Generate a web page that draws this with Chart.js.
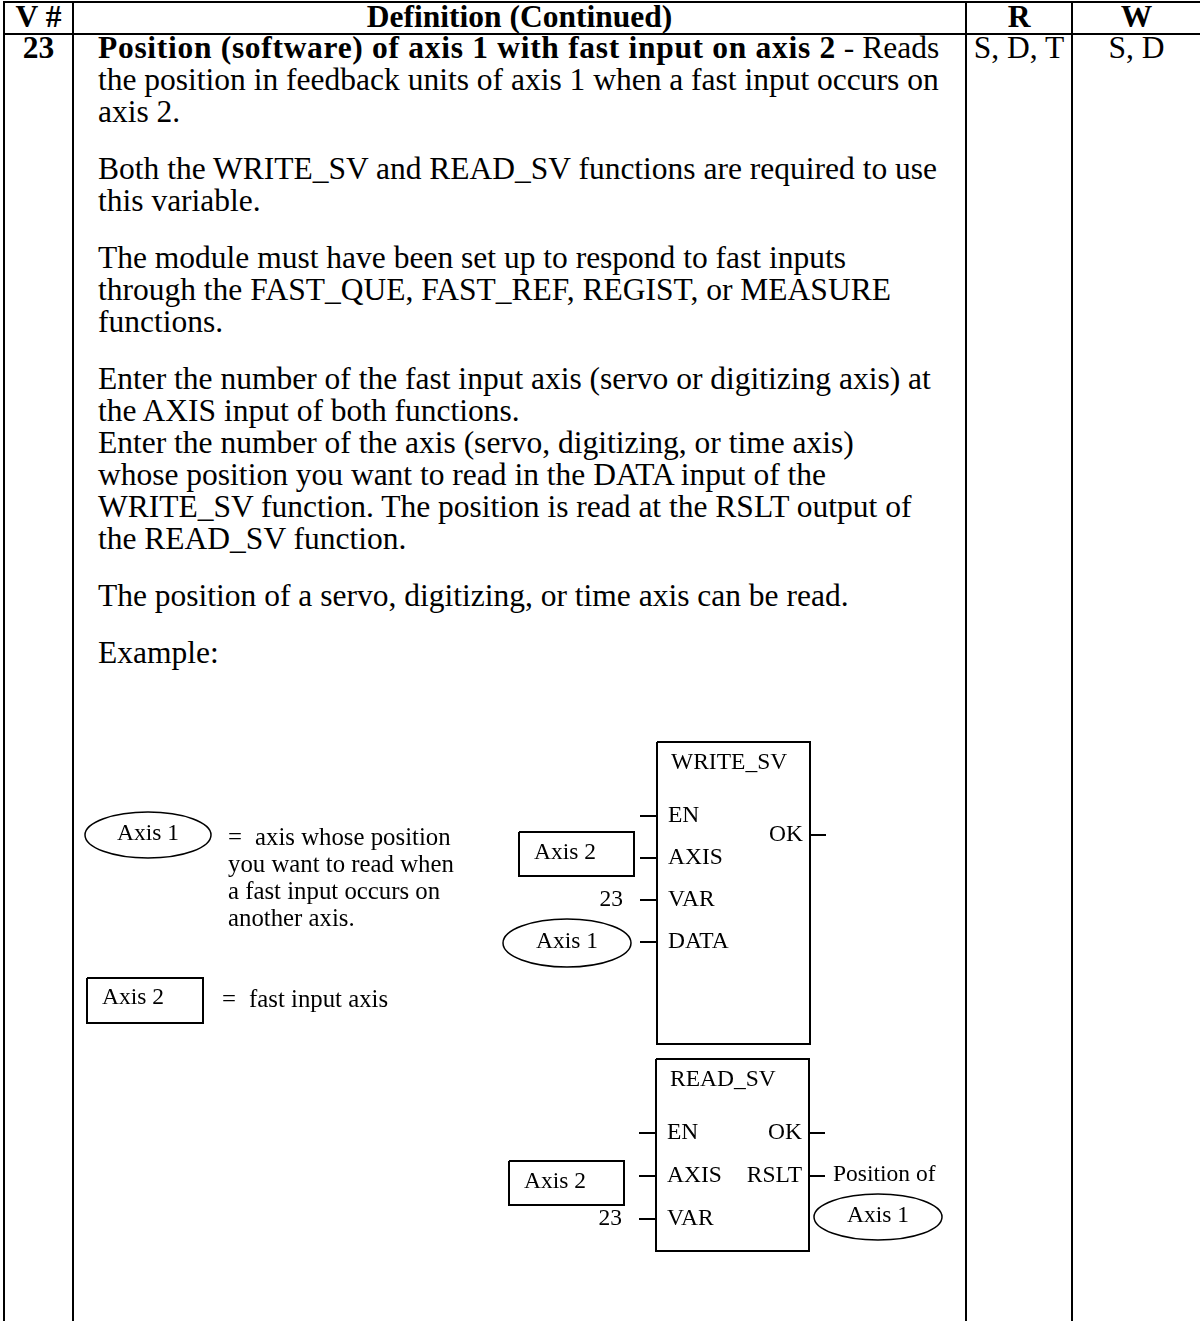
<!DOCTYPE html>
<html>
<head>
<meta charset="utf-8">
<script src="https://cdn.jsdelivr.net/npm/chart.js@4.4.1/dist/chart.umd.min.js"></script>
<style>
    html, body { margin: 0; padding: 0; background: #fff; }
    #Page { position: relative; width: 1200px; height: 1321px; overflow: hidden; font-family: "Liberation Serif", "Times New Roman", serif; color: #000; }
    .Rule { position: absolute; background: #000; }
    .Cell { position: absolute; font-size: 31.5px; line-height: 32px; white-space: nowrap; }
    .Head { font-weight: bold; text-align: center; }
    #Body_Text { position: absolute; left: 98px; top: 32px; font-size: 31.5px; line-height: 32px; white-space: nowrap; }
    #Body_Text p { margin: 0 0 25px 0; }
    #Body_Text b { letter-spacing: 0.7px; }
    #Diagram { position: absolute; left: 0; top: 0; pointer-events: none; }
</style>
</head>
<body>
<div id="Page">
    <div class="Rule" style="left:3px; top:1px; width:1197px; height:2px;"></div>
    <div class="Rule" style="left:3px; top:33px; width:1197px; height:2px;"></div>
    <div class="Rule" style="left:3px; top:1px; width:2px; height:1320px;"></div>
    <div class="Rule" style="left:72px; top:1px; width:2px; height:1320px;"></div>
    <div class="Rule" style="left:965px; top:1px; width:2px; height:1320px;"></div>
    <div class="Rule" style="left:1071px; top:1px; width:2px; height:1320px;"></div>

    <div class="Cell Head" style="left:5px; width:67px; top:1px;">V #</div>
    <div class="Cell Head" style="left:74px; width:891px; top:1px;">Definition (Continued)</div>
    <div class="Cell Head" style="left:967px; width:104px; top:1px;">R</div>
    <div class="Cell Head" style="left:1073px; width:127px; top:1px;">W</div>

    <div class="Cell Head" style="left:5px; width:67px; top:32px;">23</div>
    <div class="Cell" style="left:967px; width:104px; top:32px; text-align:center;">S, D, T</div>
    <div class="Cell" style="left:1073px; width:127px; top:32px; text-align:center;">S, D</div>

    <div id="Body_Text">
        <p><b>Position (software) of axis 1 with fast input on axis 2</b> - Reads<br>the position in feedback units of axis 1 when a fast input occurs on<br>axis 2.</p>
        <p>Both the WRITE_SV and READ_SV functions are required to use<br>this variable.</p>
        <p>The module must have been set up to respond to fast inputs<br>through the FAST_QUE, FAST_REF, REGIST, or MEASURE<br>functions.</p>
        <p>Enter the number of the fast input axis (servo or digitizing axis) at<br>the AXIS input of both functions.<br>Enter the number of the axis (servo, digitizing, or time axis)<br>whose position you want to read in the DATA input of the<br>WRITE_SV function. The position is read at the RSLT output of<br>the READ_SV function.</p>
        <p>The position of a servo, digitizing, or time axis can be read.</p>
        <p>Example:</p>
    </div>

    <canvas id="Diagram" width="1200" height="1321"></canvas>
</div>

<script>
// diagram content
const Legend_Symbols = ["Axis 1", "Axis 2"];
const Legend_Notes = [
    ["axis whose position", "you want to read when", "a fast input occurs on", "another axis."],
    ["fast input axis"]
];

const Write_Name = "WRITE_SV";
const Write_Inputs = ["EN", "AXIS", "VAR", "DATA"];
const Write_Sources = ["", "Axis 2", "23", "Axis 1"];
const Write_Outputs = ["OK"];
const Write_Targets = [""];

const Read_Name = "READ_SV";
const Read_Inputs = ["EN", "AXIS", "VAR"];
const Read_Sources = ["", "Axis 2", "23"];
const Read_Outputs = ["OK", "RSLT"];
const Read_Targets = ["", "Axis 1"];
const Read_Target_Note = "Position of";

const Diagram_Font = "23.5px 'Liberation Serif', 'Times New Roman', serif";
const Legend_Font = "24.8px 'Liberation Serif', 'Times New Roman', serif";

// block frames (page pixels, the chart scales are page pixels)
const Blocks = [
    { Name: Write_Name, Inputs: Write_Inputs, Sources: Write_Sources, Outputs: Write_Outputs, Targets: Write_Targets,
      Left: 657, Top: 742, Right: 810, Bottom: 1044, Pin_Start: 74, Pin_Step: 42, Out_Start: 93, Src_Gap: 23, Box_Dy: -4 },
    { Name: Read_Name, Inputs: Read_Inputs, Sources: Read_Sources, Outputs: Read_Outputs, Targets: Read_Targets,
      Left: 656, Top: 1059, Right: 809, Bottom: 1251, Pin_Start: 74, Pin_Step: 43, Out_Start: 74, Src_Gap: 32, Box_Dy: 7 }
];

function Line_Set(Points, Width) {
    return {
        type: "line",
        data: Points,
        showLine: true,
        borderColor: "#000",
        borderWidth: Width,
        pointRadius: 0,
        fill: false,
        tension: 0
    };
}

function Rect_Points(L, T, R, B) {
    return [{ x: L, y: T }, { x: R, y: T }, { x: R, y: B }, { x: L, y: B }, { x: L, y: T }];
}

function Build_Datasets() {
    const Sets = [];
    Blocks.forEach(function (Blk) {
        Sets.push(Line_Set(Rect_Points(Blk.Left, Blk.Top, Blk.Right, Blk.Bottom), 2));
        Blk.Inputs.forEach(function (Pin, i) {
            const Y = Blk.Top + Blk.Pin_Start + i * Blk.Pin_Step;
            Sets.push(Line_Set([{ x: Blk.Left - 17, y: Y }, { x: Blk.Left, y: Y }], 2));
            if (Blk.Sources[i] === Legend_Symbols[1]) {
                const R = Blk.Left - Blk.Src_Gap, Cy = Y + Blk.Box_Dy;
                Sets.push(Line_Set(Rect_Points(R - 115, Cy - 22, R, Cy + 22), 2));
            }
        });
        Blk.Outputs.forEach(function (Pin, i) {
            const Y = Blk.Top + Blk.Out_Start + i * Blk.Pin_Step;
            Sets.push(Line_Set([{ x: Blk.Right, y: Y }, { x: Blk.Right + 16, y: Y }], 2));
        });
    });
    // legend box
    Sets.push(Line_Set(Rect_Points(87, 978, 203, 1023), 2));
    return Sets;
}

function Draw_Ellipse(Ctx, Cx, Cy, Rx, Ry, Label) {
    Ctx.beginPath();
    Ctx.ellipse(Cx, Cy, Rx, Ry, 0, 0, Math.PI * 2);
    Ctx.lineWidth = 1.5;
    Ctx.strokeStyle = "#000";
    Ctx.stroke();
    Ctx.textAlign = "center";
    Ctx.fillText(Label, Cx, Cy - 1);
}

const Diagram_Text_Plugin = {
    id: "diagram_text",
    afterDatasetsDraw: function (Chart_Obj) {
        const Ctx = Chart_Obj.ctx;
        const Sx = Chart_Obj.scales.x, Sy = Chart_Obj.scales.y;
        const Px = function (v) { return Sx.getPixelForValue(v); };
        const Py = function (v) { return Sy.getPixelForValue(v); };
        Ctx.save();
        Ctx.fillStyle = "#000";
        Ctx.font = Diagram_Font;
        Ctx.textBaseline = "middle";

        // legend
        Draw_Ellipse(Ctx, Px(148), Py(835), 63, 23, Legend_Symbols[0]);
        Ctx.fillText(Legend_Symbols[1], Px(103) + 30, Py(998));
        Ctx.font = Legend_Font;
        Ctx.textAlign = "left";
        Ctx.fillText("=", Px(228), Py(838));
        Legend_Notes[0].forEach(function (Txt, i) {
            Ctx.fillText(Txt, Px(i === 0 ? 255 : 228), Py(838 + i * 27));
        });
        Ctx.fillText("=", Px(222), Py(1000));
        Ctx.fillText(Legend_Notes[1][0], Px(249), Py(1000));
        Ctx.font = Diagram_Font;

        Blocks.forEach(function (Blk) {
            Ctx.textAlign = "left";
            Ctx.fillText(Blk.Name, Px(Blk.Left + 14), Py(Blk.Top + 21));
            Blk.Inputs.forEach(function (Pin, i) {
                const Y = Blk.Top + Blk.Pin_Start + i * Blk.Pin_Step;
                Ctx.textAlign = "left";
                Ctx.fillText(Pin, Px(Blk.Left + 11), Py(Y));
                const Src = Blk.Sources[i];
                const R = Blk.Left - Blk.Src_Gap;
                if (Src === Legend_Symbols[1]) {
                    Ctx.fillText(Src, Px(R - 100), Py(Y + Blk.Box_Dy - 1));
                } else if (Src === Legend_Symbols[0]) {
                    Draw_Ellipse(Ctx, Px(R - 67), Py(Y + 1), 64, 24, Src);
                } else if (Src) {
                    Ctx.textAlign = "right";
                    Ctx.fillText(Src, Px(Blk.Left - 34), Py(Y));
                }
            });
            Blk.Outputs.forEach(function (Pin, i) {
                const Y = Blk.Top + Blk.Out_Start + i * Blk.Pin_Step;
                Ctx.textAlign = "right";
                Ctx.fillText(Pin, Px(Blk.Right - 7), Py(Y));
                if (Blk.Targets[i]) {
                    Ctx.textAlign = "left";
                    Ctx.fillText(Read_Target_Note, Px(Blk.Right + 24), Py(Y - 1));
                    Draw_Ellipse(Ctx, Px(Blk.Right + 69), Py(Y + 41), 64, 23, Blk.Targets[i]);
                }
            });
        });
        Ctx.restore();
    }
};

const Diagram_Config = {
    type: "scatter",
    data: { datasets: Build_Datasets() },
    options: {
        responsive: false,
        animation: false,
        events: [],
        layout: { padding: 0 },
        scales: {
            x: { type: "linear", min: 0, max: 1200, display: false },
            y: { type: "linear", min: 0, max: 1321, reverse: true, display: false }
        },
        plugins: { legend: { display: false }, tooltip: { enabled: false } }
    },
    plugins: [Diagram_Text_Plugin]
};

Promise.all([document.fonts.load(Diagram_Font), document.fonts.load(Legend_Font)]).then(function () {
    new Chart(document.getElementById("Diagram"), Diagram_Config);
});
</script>
</body>
</html>
